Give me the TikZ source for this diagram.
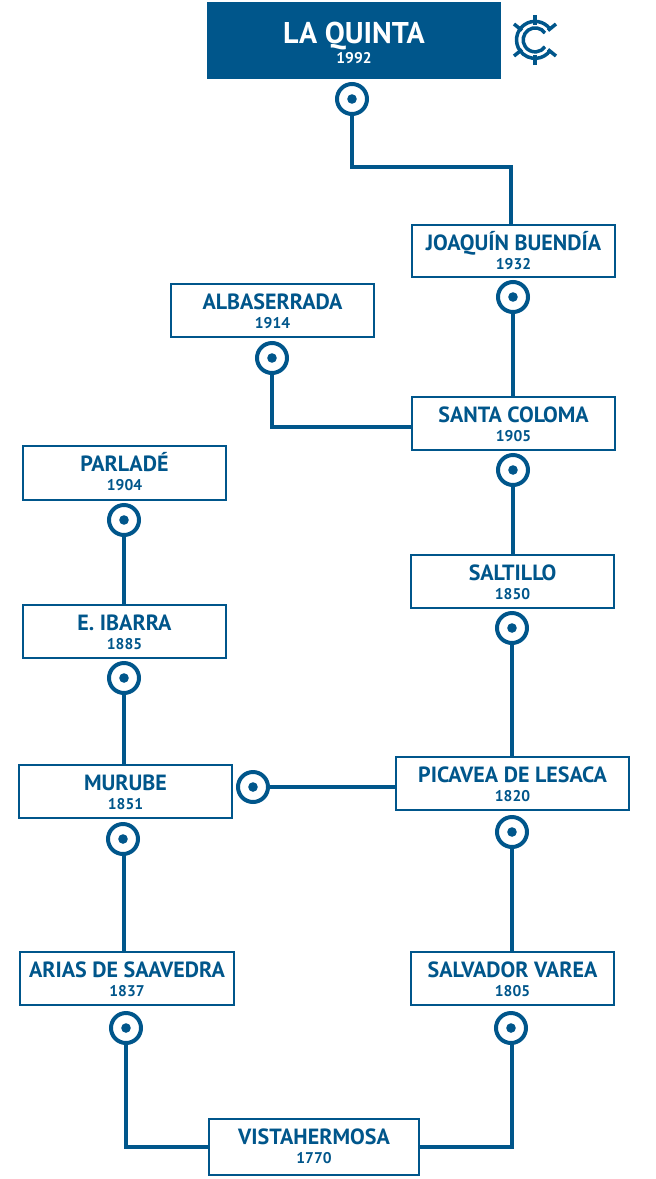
\documentclass[tikz,border=0pt]{standalone}
\usepackage{fontspec}
\setmainfont{PT Sans}
\definecolor{lqblue}{HTML}{00568B}
\tikzset{
  x=1pt,y=-1pt,
  boxnode/.style={draw=lqblue,line width=2pt,fill=white,inner sep=0pt},
  ringnode/.style={circle,draw=lqblue,fill=white,line width=4pt,minimum size=30pt,inner sep=0pt},
  link/.style={draw=lqblue,line width=4pt,line join=miter},
  spoke/.style={draw=lqblue,line width=3.5pt},
  titletext/.style={text=lqblue,font=\bfseries\fontsize{22}{22}\selectfont,inner sep=0pt,anchor=base},
  yeartext/.style={text=lqblue,font=\bfseries\fontsize{15.5}{15.5}\selectfont,inner sep=0pt,anchor=base}
}
\newcommand{\lqbox}[7]{% name x1 y1 x2 y2 title year
  \node[boxnode,minimum width=#4pt-#2pt,minimum height=#5pt-#3pt] (#1) at ({(#2+#4)/2},{(#3+#5)/2}) {};
  \node[titletext] (#1t) at ({(#2+#4)/2},{#3+25.5}) {#6};
  \node[yeartext] (#1y) at ({(#2+#4)/2},{#3+44.5}) {#7};
}
\newcommand{\lqring}[3]{%
  \node[ringnode] (#1) at (#2,#3) {};
  \fill[lqblue] (#2,#3) circle (4.8);
}
\begin{document}
\begin{tikzpicture}
\useasboundingbox (0,0) rectangle (656,1179);
\node[fill=lqblue,minimum width=294pt,minimum height=77pt,inner sep=0pt] (q) at (354,40.5) {};
\node[text=white,font=\bfseries\fontsize{30}{30}\selectfont,inner sep=0pt,anchor=base] (qt) at (354,43) {LA QUINTA};
\node[text=white,font=\bfseries\fontsize{15.5}{15.5}\selectfont,inner sep=0pt,anchor=base] (qy) at (354,63) {1992};
% boxes
\lqbox{jb}{412}{225}{615}{277}{JOAQUÍN BUENDÍA}{1932}
\lqbox{al}{171}{284}{374}{337}{ALBASERRADA}{1914}
\lqbox{sc}{412}{397}{615}{450}{SANTA COLOMA}{1905}
\lqbox{pa}{23}{446}{226}{500}{PARLADÉ}{1904}
\lqbox{sa}{411}{555}{614}{608}{SALTILLO}{1850}
\lqbox{ib}{23}{605}{226}{658}{E. IBARRA}{1885}
\lqbox{pi}{396}{757}{629}{810}{PICAVEA DE LESACA}{1820}
\lqbox{mu}{19}{765}{232}{818}{MURUBE}{1851}
\lqbox{ar}{20}{952}{234}{1005}{ARIAS DE SAAVEDRA}{1837}
\lqbox{sv}{411}{952}{614}{1005}{SALVADOR VAREA}{1805}
\lqbox{vi}{209}{1119}{419}{1175}{VISTAHERMOSA}{1770}
% connector ends
\coordinate (a1) at (352,99);
\coordinate (b1) at (511,167);
\coordinate (a2) at (513,297);
\coordinate (a3) at (272,358);
\coordinate (a4) at (513,470);
\coordinate (a5) at (124,520);
\coordinate (a6) at (512,628);
\coordinate (a7) at (124,678);
\coordinate (a8) at (512,832);
\coordinate (a9) at (253,787);
\coordinate (a10) at (124,839);
\coordinate (a11) at (126,1028);
\coordinate (a12) at (512,1028);
\coordinate (e3) at (411,427);
\draw[link] (a1) |- (b1) -- (b1 |- jb.north);
\draw[link] (a2) -- (a2 |- sc.north);
\draw[link] (a3) |- (e3);
\draw[link] (a4) -- (a4 |- sa.north);
\draw[link] (a5) -- (a5 |- ib.north);
\draw[link] (a6) -- (a6 |- pi.north);
\draw[link] (a7) -- (a7 |- mu.north);
\draw[link] (a8) -- (a8 |- sv.north);
\draw[link] (a9) -- (a9 -| pi.west);
\draw[link] (a10) -- (a10 |- ar.north);
\draw[link] (a11) |- (vi.west);
\draw[link] (a12) |- (vi.east);
\lqring{r1}{352}{99}
\lqring{r2}{513}{297}
\lqring{r3}{272}{358}
\lqring{r4}{513}{470}
\lqring{r5}{124}{520}
\lqring{r6}{512}{628}
\lqring{r7}{124}{678}
\lqring{r8}{512}{832}
\lqring{r9}{253}{787}
\lqring{r10}{123}{839}
\lqring{r11}{126}{1028}
\lqring{r12}{511}{1028}
% logo
\begin{scope}[shift={(535,40)}]
\draw[spoke] (0,-25) -- (0,-15);
\draw[spoke] (0,25) -- (0,15);
\draw[spoke] (13,-9.5) -- (21,-16);
\draw[spoke] (-13,-9.5) -- (-21,-16);
\draw[spoke] (13,9.5) -- (21,16);
\draw[spoke] (-13,9.5) -- (-21,16);
\draw[spoke] (15,-11) arc[start angle=-36,end angle=-324,radius=18.5];
\draw[spoke] (10,-7) arc[start angle=-35,end angle=-325,radius=12];
\end{scope}
\end{tikzpicture}
\end{document}
